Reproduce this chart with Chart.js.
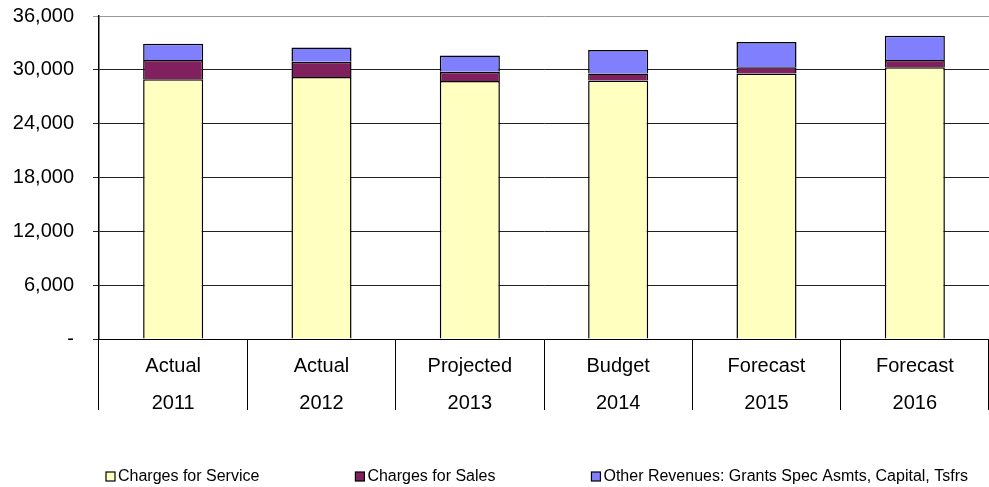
<!DOCTYPE html>
<html>
<head>
<meta charset="utf-8">
<script src="https://cdn.jsdelivr.net/npm/chart.js@4/dist/chart.umd.min.js"></script>
<style>
  html, body { margin: 0; padding: 0; background: #fff; }
  #wrap { width: 989px; height: 487px; position: relative; }
</style>
</head>
<body>
<div id="wrap"><canvas id="revChart"></canvas></div>
<script>
// categories (two-line labels)
const categories = [
  ['Actual', '2011'],
  ['Actual', '2012'],
  ['Projected', '2013'],
  ['Budget', '2014'],
  ['Forecast', '2015'],
  ['Forecast', '2016']
];

// series values
const chargesForService = [28950, 29200, 28750, 28800, 29600, 30300];
const chargesForSales = [2150, 1700, 1050, 800, 700, 800];
const otherRevenues = [1800, 1600, 1800, 2600, 2800, 2700];

// y axis
const yMin = 0;
const yMax = 36000;
const yStep = 6000;

const FONT = '"Liberation Sans", Arial, sans-serif';

// legend drawn under the chart, like the spreadsheet one
const sheetLegend = {
  id: 'sheetLegend',
  afterDraw(chart) {
    const ctx = chart.ctx;
    ctx.save();
    ctx.font = '16px ' + FONT;
    ctx.textBaseline = 'middle';
    let x = 106;
    const y = 477;
    chart.data.datasets.forEach(ds => {
      ctx.fillStyle = ds.backgroundColor;
      ctx.fillRect(x, y - 5, 9, 9);
      ctx.strokeStyle = '#000';
      ctx.lineWidth = 1.2;
      ctx.strokeRect(x, y - 5, 9, 9);
      ctx.fillStyle = '#000';
      ctx.fillText(ds.label, x + 12, y);
      x += 12 + ctx.measureText(ds.label).width + 96;
    });
    ctx.restore();
  }
};

const ctx = document.getElementById('revChart').getContext('2d');
const chart = new Chart(ctx, {
  type: 'bar',
  data: {
    labels: categories,
    datasets: [
      {
        label: 'Charges for Service',
        data: chargesForService,
        backgroundColor: '#FFFFC0',
        borderColor: '#000',
        borderWidth: 1.5
      },
      {
        label: 'Charges for Sales',
        data: chargesForSales,
        backgroundColor: '#80205F',
        borderColor: '#000',
        borderWidth: 1.5
      },
      {
        label: 'Other Revenues: Grants Spec Asmts, Capital, Tsfrs',
        data: otherRevenues,
        backgroundColor: '#8080FF',
        borderColor: '#000',
        borderWidth: 1.5
      }
    ]
  },
  options: {
    responsive: true,
    maintainAspectRatio: false,
    animation: false,
    devicePixelRatio: 1,
    layout: { padding: { left: 12, top: 16, right: 0, bottom: 66 } },
    datasets: {
      bar: { categoryPercentage: 1, barPercentage: 0.405 }
    },
    scales: {
      x: {
        stacked: true,
        offset: true,
        afterFit: s => { s.height = 82; },
        border: { display: true, color: '#000', width: 1 },
        grid: {
          offset: true,
          drawOnChartArea: false,
          drawTicks: true,
          tickLength: 71,
          color: '#000',
          lineWidth: 1
        },
        ticks: {
          color: '#000',
          padding: -62.5,
          maxRotation: 0,
          font: { family: FONT, size: 20, lineHeight: 1.85 }
        }
      },
      y: {
        stacked: true,
        min: yMin,
        max: yMax,
        afterFit: s => { s.width = 87; s.paddingTop = 0; s.paddingBottom = 0; },
        border: { display: true, color: '#000', width: 1.5 },
        grid: {
          color: c => (c.tick && c.tick.value === yMax ? '#999' : '#222'),
          lineWidth: 1,
          drawTicks: true,
          tickLength: 6
        },
        ticks: {
          stepSize: yStep,
          color: '#000',
          padding: 19,
          font: { family: FONT, size: 20 },
          callback: v => (v === 0 ? '-' : v.toLocaleString('en-US'))
        }
      }
    },
    plugins: {
      legend: { display: false },
      tooltip: { enabled: false }
    }
  },
  plugins: [sheetLegend]
});
</script>
</body>
</html>
